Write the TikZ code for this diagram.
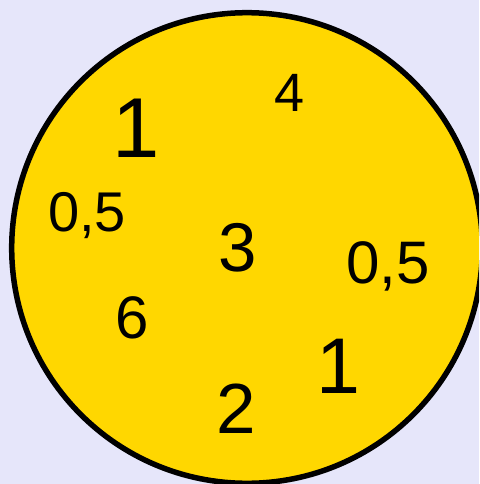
\documentclass[tikz,border=0pt]{standalone}
\usepackage{fontspec}
\setmainfont{Liberation Sans}
\usepackage{tikz}
\definecolor{bglav}{RGB}{230,230,250}
\definecolor{discgold}{RGB}{255,215,0}

\begin{document}
\begin{tikzpicture}[
    x=1pt, y=-1pt,
    num/.style={anchor=base, inner sep=0pt, text=black},
    disc/.style={draw=black, line width=5.5pt, fill=discgold},
]

% --- Background panel (fixes the page size) ---
\fill[bglav] (0,0) rectangle (479,484);
\useasboundingbox (0,0) rectangle (479,484);

% --- Yellow disc, cut off at the right and bottom edges ---
\begin{scope}
    \clip (0,0) rectangle (479,484);
    \draw[disc] (247,248) circle[radius=235.3pt];
\end{scope}

% --- Numbers on the disc ---
\node[num, font=\fontsize{85}{85}\selectfont] (oneA)  at (136,157) {1};
\node[num, font=\fontsize{54}{54}\selectfont] (four)  at (290,112) {4};
\node[num, font=\fontsize{56}{56}\selectfont] (halfA) at (87,231)  {0,5};
\node[num, font=\fontsize{69}{69}\selectfont] (three) at (238,271) {3};
\node[num, font=\fontsize{60}{60}\selectfont] (halfB) at (388,283) {0,5};
\node[num, font=\fontsize{60}{60}\selectfont] (six)   at (132,338) {6};
\node[num, font=\fontsize{79}{79}\selectfont] (oneB)  at (338,393) {1};
\node[num, font=\fontsize{71}{71}\selectfont] (two)   at (236,433) {2};

\end{tikzpicture}
\end{document}
